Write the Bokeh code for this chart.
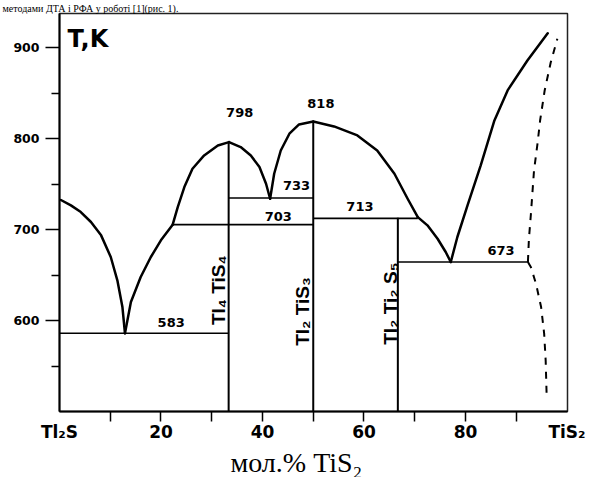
import math
from bokeh.plotting import figure
from bokeh.models import Range1d, FixedTicker, Label, Title
from bokeh.core.properties import value
from bokeh.embed import file_html
from bokeh.resources import INLINE

# ---- data (mol.% TiS2, temperature K) ----
liq_a_x = [0.28, 2.25, 4.2, 6.2, 8.2, 10.1, 11.4, 12.4, 12.9]
liq_a_T = [732.6, 726.7, 719.3, 708.4, 693.7, 669.9, 644.3, 614.9, 586.0]
liq_b_x = [12.9, 14.07, 16.0, 18.0, 19.98, 22.3]
liq_b_T = [586.0, 620.4, 647.9, 669.9, 688.2, 705.5]
liq_c_x = [22.3, 23.3, 24.6, 26.2, 28.5, 31.2, 33.4]
liq_c_T = [705.5, 724.8, 746.8, 767.0, 781.6, 792.6, 796.3]
liq_d_x = [33.4, 35.7, 37.7, 39.4, 40.7, 41.5]
liq_d_T = [796.3, 790.8, 781.6, 768.8, 750.5, 734.0]
liq_e_x = [41.5, 42.3, 43.6, 45.3, 47.2, 50.0]
liq_e_T = [734.0, 761.5, 787.0, 805.5, 815.7, 819.0]
liq_f_x = [50.0, 54.1, 58.7, 62.6, 66.0, 68.6, 70.6]
liq_f_T = [819.0, 813.5, 803.6, 787.1, 761.5, 734.0, 713.8]
liq_g_x = [70.6, 72.5, 74.5, 76.1, 77.1]
liq_g_T = [713.8, 704.7, 690.0, 675.4, 664.4]
liq_h_x = [77.1, 78.4, 80.4, 83.0, 85.7, 88.3, 92.2, 96.2]
liq_h_T = [664.4, 691.9, 726.7, 770.7, 820.1, 853.1, 886.0, 916.0]
dash_up_x = [92.3, 92.5, 92.9, 93.5, 94.2, 94.7, 95.6, 96.8, 98.1]
dash_up_T = [664.4, 690.0, 718.0, 765.0, 795.0, 820.0, 853.0, 884.0, 910.0]
dash_lo_x = [92.3, 92.9, 93.9, 94.9, 95.5, 95.8, 96.0]
dash_lo_T = [664.4, 658.6, 640.3, 614.9, 585.7, 556.0, 515.8]

compound_x = [33.33, 50.0, 66.67]
compound_top = [796.3, 819.3, 713.0]
compound_names = ["Tl₄ TiS₄", "Tl₂ TiS₃", "Tl₂ Ti₂ S₅"]

iso_T = [586.0, 705.5, 734.8, 712.4, 664.4]
iso_x0 = [0.0, 22.3, 33.33, 50.0, 66.67]
iso_x1 = [33.33, 50.0, 50.0, 70.6, 92.4]

point_labels = ["583", "798", "818", "733", "703", "713", "673"]
point_lab_x = [22.0, 35.5, 51.5, 46.7, 43.1, 59.2, 87.0]
point_lab_T = [598.4, 828.8, 838.6, 748.7, 714.6, 725.6, 677.3]

comp_lab_x = [31.3, 47.9, 65.3]
comp_lab_T = [633.3, 610.0, 618.6]

x_ticks = [0, 20, 40, 60, 80, 100]
x_tick_labels = {0: "Tl₂S", 100: "TiS₂"}
x_marks = [10, 20, 30, 40, 50, 60, 70, 80, 90]
y_ticks = [600, 700, 800, 900]
y_minor = [550, 650, 750, 850]

p = figure(width=599, height=477, output_backend="svg", toolbar_location=None,
           x_range=Range1d(0, 100.1), y_range=Range1d(500, 937.7),
           min_border_left=59, min_border_right=32, min_border_top=13,
           min_border_bottom=66)
p.grid.visible = False
p.outline_line_color = "#222222"
p.outline_line_width = 1.5
p.background_fill_color = "white"
p.border_fill_color = "white"

# title line of the surrounding text (cut in the source)
p.title.text = "методами ДТА і РФА у роботі [1](рис. 1)."
p.title.text_font = "Liberation Serif"
p.title.text_font_size = "10px"
p.title.text_font_style = "normal"
p.title.text_color = "black"
p.title.align = "left"
p.title.offset = -57
p.title.standoff = 0

# axes
p.xaxis.ticker = FixedTicker(ticks=x_ticks, minor_ticks=x_marks)
p.xaxis.major_label_overrides = x_tick_labels
p.yaxis.ticker = FixedTicker(ticks=y_ticks, minor_ticks=y_minor)
for ax in (p.xaxis[0], p.yaxis[0]):
    ax.axis_line_color = "black"
    ax.axis_line_width = 2
    ax.major_tick_line_color = "black"
    ax.minor_tick_line_color = "black"
    ax.major_tick_line_width = 1.5
    ax.minor_tick_line_width = 1.5
    ax.major_tick_in = 0
    ax.minor_tick_in = 0
    ax.major_label_text_font = "DejaVu Sans"
    ax.major_label_text_font_style = "bold"
    ax.major_label_text_color = "black"
p.xaxis.major_tick_line_color = None
p.xaxis.major_tick_out = 10
p.xaxis.minor_tick_out = 10
p.xaxis.major_label_text_font_size = "17px"
p.xaxis.major_label_standoff = 0
p.yaxis.major_tick_out = 14
p.yaxis.minor_tick_out = 8
p.yaxis.major_label_text_font_size = "12.5px"
p.yaxis.major_label_standoff = 6

# x-axis caption below
p.add_layout(Title(text="мол.% TiS₂", align="left", offset=171, standoff=0,
                   text_font="Liberation Serif", text_font_size="28px",
                   text_font_style="normal", text_color="black"), "below")

# liquidus curves
for xs, ts in [(liq_a_x, liq_a_T), (liq_b_x, liq_b_T), (liq_c_x, liq_c_T),
               (liq_d_x, liq_d_T), (liq_e_x, liq_e_T), (liq_f_x, liq_f_T),
               (liq_g_x, liq_g_T), (liq_h_x, liq_h_T)]:
    p.line(xs, ts, line_color="black", line_width=2.5, line_join="round", line_cap="round")

for xs, ts in [(dash_up_x, dash_up_T), (dash_lo_x, dash_lo_T)]:
    p.line(xs, ts, line_color="black", line_width=2, line_dash="7 7")

# compound verticals
p.segment(x0=compound_x, y0=[500] * 3, x1=compound_x, y1=compound_top,
          line_color="black", line_width=2)
# invariant horizontals
p.segment(x0=iso_x0, y0=iso_T, x1=iso_x1, y1=iso_T, line_color="black", line_width=1.6)

p.text(x=point_lab_x, y=point_lab_T, text=point_labels,
       text_font=value("DejaVu Sans"), text_font_style="bold", text_font_size="13px",
       text_align="center", text_baseline="middle", text_color="black")
p.text(x=comp_lab_x, y=comp_lab_T, text=compound_names, angle=math.pi / 2,
       text_font=value("Liberation Sans"), text_font_style="bold", text_font_size="19px",
       text_align="center", text_baseline="middle", text_color="black")

p.add_layout(Label(x=1.6, y=909.9, text="T,K", text_font="DejaVu Sans", text_color="black",
                   text_font_style="bold", text_font_size="24px", text_baseline="alphabetic"))

open("out.html", "w").write(file_html(p, INLINE))
